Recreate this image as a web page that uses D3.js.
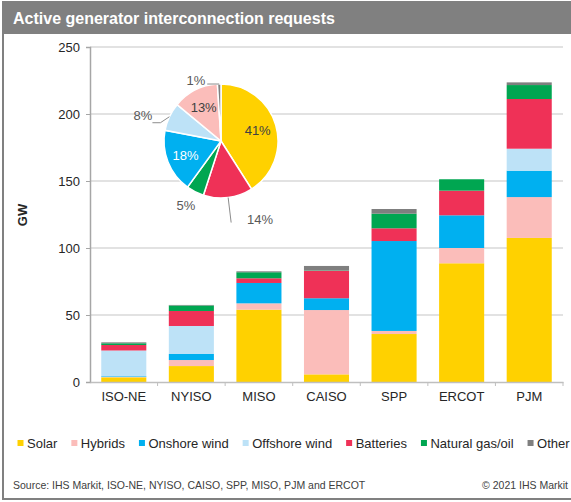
<!DOCTYPE html>
<html><head><meta charset="utf-8">
<script src="https://cdn.jsdelivr.net/npm/d3@7"></script>
<style>
html,body{margin:0;padding:0;background:#fff;}
svg{display:block;font-family:"Liberation Sans",Arial,sans-serif;}
</style></head>
<body><svg id="c" width="571" height="502"></svg>
<script>
const categories = ["ISO-NE","NYISO","MISO","CAISO","SPP","ERCOT","PJM"];
const seriesNames = ["Solar","Hybrids","Onshore wind","Offshore wind","Batteries","Natural gas/oil","Other"];
const seriesColors = ["#FFD100","#FBBDBA","#00B0F0","#BDE2F7","#EF3157","#00A651","#7F7F7F"];
const solar     = [3.5, 11.9, 54.0, 5.7, 35.8, 88.6, 107.5];
const hybrids   = [0.3, 4.5, 4.7, 48.0, 2.3, 11.4, 30.5];
const onshore   = [0.5, 4.5, 15.2, 8.8, 67.1, 24.4, 19.7];
const offshore  = [19.2, 20.9, 0, 0, 0, 0, 16.4];
const batteries = [4.1, 11.2, 3.5, 20.5, 9.5, 18.4, 37.1];
const gasOil    = [1.3, 4.1, 4.5, 0.3, 10.9, 8.5, 10.4];
const other     = [0.7, 0.4, 0.7, 3.3, 3.5, 0, 2.0];
const yTicks = [0, 50, 100, 150, 200, 250];
// pie (share of total, clockwise from 12 o'clock)
const pieNames  = ["Solar","Batteries","Natural gas/oil","Onshore wind","Offshore wind","Hybrids","Other"];
const pieShares = [41, 14, 5, 18, 8, 13, 1];

const svg = d3.select("#c");
const seriesData = [solar, hybrids, onshore, offshore, batteries, gasOil, other];
const color = d3.scaleOrdinal().domain(seriesNames).range(seriesColors);

// frame + title
svg.append("rect").attr("x",3).attr("y",2).attr("width",570).attr("height",497)
  .attr("fill","#fff").attr("stroke","#808080").attr("stroke-width",2);
svg.append("rect").attr("x",3).attr("y",2).attr("width",570).attr("height",32).attr("fill","#808080");
svg.append("text").attr("x",13).attr("y",24).attr("fill","#fff")
  .attr("font-size",16).attr("font-weight","bold").text("Active generator interconnection requests");

// scales
const x = d3.scaleBand().domain(categories).range([90, 563]).padding(0);
const y = d3.scaleLinear().domain([0, 250]).range([382, 47]);
const barW = x.bandwidth() * 0.667;

// gridlines
svg.append("g").selectAll("line").data(yTicks.filter(d=>d>0)).join("line")
  .attr("x1",90).attr("x2",563).attr("y1",d=>y(d)).attr("y2",d=>y(d))
  .attr("stroke","#d9d9d9").attr("stroke-width",1.5);

// y axis
const yAxis = svg.append("g").attr("transform","translate(90,0)")
  .call(d3.axisLeft(y).tickValues(yTicks).tickSize(4).tickPadding(6));
yAxis.select(".domain").attr("stroke","#a6a6a6").attr("stroke-width",1.5);
yAxis.selectAll(".tick line").attr("stroke","#a6a6a6");
yAxis.selectAll("text").attr("font-size",13).attr("fill","#262626").attr("font-family","Liberation Sans, Arial, sans-serif");

svg.append("text").attr("transform","translate(27,215) rotate(-90)")
  .attr("text-anchor","middle").attr("font-size",13).attr("font-weight","bold").attr("fill","#262626").text("GW");

// stacked bars
const rows = categories.map((c,i)=>{const o={cat:c}; seriesNames.forEach((s,j)=>o[s]=seriesData[j][i]); return o;});
const stack = d3.stack().keys(seriesNames)(rows);
svg.append("g").selectAll("g").data(stack).join("g").attr("fill",d=>color(d.key))
  .selectAll("rect").data(d=>d).join("rect")
  .attr("x",d=>x(d.data.cat) + (x.bandwidth()-barW)/2)
  .attr("width",barW)
  .attr("y",d=>y(d[1]))
  .attr("height",d=>Math.max(0, y(d[0]) - y(d[1])));

// x axis
const xAxis = svg.append("g").attr("transform","translate(0,382)")
  .call(d3.axisBottom(x).tickSize(0).tickPadding(10));
xAxis.select(".domain").attr("stroke","#bfbfbf").attr("stroke-width",1.5);
xAxis.selectAll("text").attr("font-size",13).attr("fill","#262626").attr("font-family","Liberation Sans, Arial, sans-serif");
svg.append("g").selectAll("line").data(categories).join("line")
  .attr("x1",d=>x(d)+x.bandwidth()).attr("x2",d=>x(d)+x.bandwidth())
  .attr("y1",382).attr("y2",386).attr("stroke","#bfbfbf");

// pie
const cx = 221, cy = 141, R = 57;
const pie = d3.pie().sort(null).value(d=>d.v);
const arcs = pie(pieNames.map((n,i)=>({n, v: pieShares[i]})));
const arc = d3.arc().innerRadius(0).outerRadius(R);
const pg = svg.append("g").attr("transform",`translate(${cx},${cy})`);
pg.selectAll("path").data(arcs).join("path").attr("d",arc)
  .attr("fill",d=>color(d.data.n)).attr("stroke","#fff").attr("stroke-width",1.5);
const inner = d3.arc().innerRadius(R*0.67).outerRadius(R*0.67);
const insideSet = ["Solar","Onshore wind","Hybrids"];
pg.selectAll("text.in").data(arcs.filter(d=>insideSet.includes(d.data.n))).join("text")
  .attr("class","in")
  .attr("transform",d=>`translate(${inner.centroid(d)})`)
  .attr("text-anchor","middle").attr("dy","0.35em").attr("font-size",13)
  .attr("fill",d=>d.data.n==="Onshore wind"?"#fff":"#404040")
  .text(d=>d.data.v+"%");
// outside labels
const outLab = {
  "Batteries":      {lx:260, ly:219, pts:[[0,0],[3,25]]},
  "Natural gas/oil":{lx:186, ly:205, pts:null},
  "Offshore wind":  {lx:143, ly:115, pts:[[0,0],[-9,6],[-17,6]]},
  "Other":          {lx:196, ly:80,  pts:[[0,0],[-12,0]]}
};
arcs.forEach(d=>{
  const o = outLab[d.data.n]; if(!o) return;
  if(o.pts){
    const a = (d.startAngle+d.endAngle)/2;
    const ex = cx + Math.sin(a)*R, ey = cy - Math.cos(a)*R;
    svg.append("path").attr("d", d3.line()(o.pts.map(p=>[ex+p[0], ey+p[1]])))
      .attr("fill","none").attr("stroke","#8c8c8c").attr("stroke-width",1);
  }
  svg.append("text").attr("x",o.lx).attr("y",o.ly).attr("dy","0.35em").attr("text-anchor","middle")
    .attr("font-size",13).attr("fill","#595959").text(d.data.v+"%");
});

// legend
let lx = 17.5;
const lg = svg.append("g");
seriesNames.forEach((s,i)=>{
  lg.append("rect").attr("x",lx).attr("y",440).attr("width",6).attr("height",6).attr("fill",color(s));
  const t = lg.append("text").attr("x",lx+9.5).attr("y",443).attr("dy","0.35em")
    .attr("font-size",13).attr("fill","#262626").text(s);
  lx += 9.5 + t.node().getComputedTextLength() + 14;
});

// footer
svg.append("text").attr("x",13).attr("y",489).attr("font-size",10.5).attr("fill","#404040")
  .text("Source: IHS Markit, ISO-NE, NYISO, CAISO, SPP, MISO, PJM and ERCOT");
svg.append("text").attr("x",568).attr("y",489).attr("text-anchor","end").attr("font-size",10.5).attr("fill","#404040")
  .text("© 2021 IHS Markit");
</script></body></html>
